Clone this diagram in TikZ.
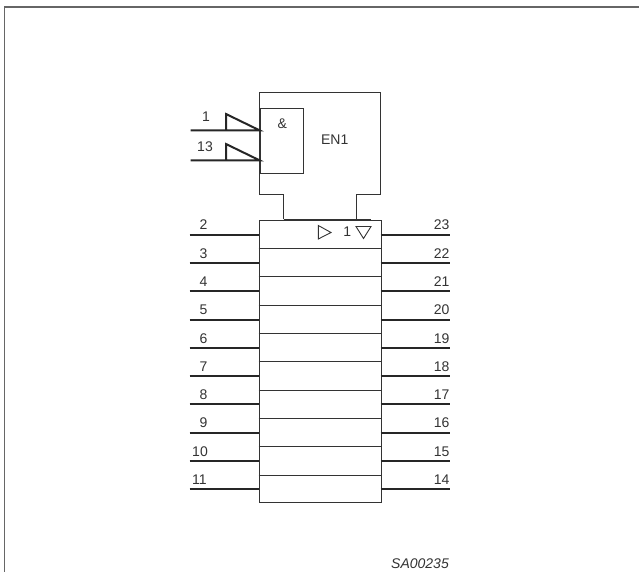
\documentclass[tikz,border=0pt]{standalone}
\usepackage{fontspec}
\setmainfont{Liberation Sans}
\tikzset{
	pin line/.style={line width=2pt,color=black!85},
	body line/.style={line width=0.9pt,color=black!80},
	pin label/.style={font=\fontsize{14}{15}\selectfont,inner sep=0pt,color=black!80}
}
\begin{document}
\begin{tikzpicture}[x=1pt,y=-1pt]
	\useasboundingbox (0,0) rectangle (639,572);
	% outer frame
	\draw[line width=1.2pt,color=black!60] (4.5,572) -- (4.5,7) -- (639,7);
	% enable block
	\draw[body line] (283.7,219.3) -- (283.7,194.3) -- (259.5,194.3) -- (259.5,92.3) -- (380.7,92.3) -- (380.7,194.3) -- (356.3,194.3) -- (356.3,219.3);
	\node[draw,body line,inner sep=0pt,minimum width=43.2pt,minimum height=65pt,anchor=north west] (andbox) at (259.5,108.3) {};
	\node[pin label] (amp) at (282.3,123.3) {\&};
	\node[pin label] (enone) at (334.7,139.3) {EN1};
	% gate inputs
	\coordinate (ina) at (190.5,130.3);
	\coordinate (inb) at (190.5,160.3);
	\coordinate (ea) at (259.5,130.3);
	\coordinate (eb) at (259.5,160.3);
	\draw[pin line] (ina) -- (ea) -- (226,114) -- (226,130.3);
	\draw[pin line] (inb) -- (eb) -- (226,144) -- (226,160.3);
	\node[pin label] (la) at (206,116.7) {1};
	\node[pin label] (lb) at (205,146.7) {13};
	% register block
	\node[draw,body line,inner sep=0pt,minimum width=122pt,minimum height=282.3pt,anchor=north west] (reg) at (258.7,220) {};
	\draw[line width=1.3pt,color=black!80] (283.7,219.3) -- (371,219.3);
	\foreach \row in {1,...,9}
		\draw[body line] (258.7,220+28.33*\row) -- (380.7,220+28.33*\row);
	\draw[body line] (318.3,225.5) -- (331,232.5) -- (318.3,239) -- cycle;
	\draw[body line] (356,226.5) -- (371,226.5) -- (363.5,238.5) -- cycle;
	\node[pin label] (one) at (347.3,232) {1};
	% pins
	\foreach \left/\right/\lx [count=\i from 0] in {2/23/203.5,3/22/203.5,4/21/203.5,5/20/203.5,6/19/203.5,7/18/203.5,8/17/203.5,9/16/203.5,10/15/200,11/14/199.5} {
		\coordinate (pl\i) at (189.5,234.6+28.3*\i);
		\coordinate (pr\i) at (449.7,234.6+28.3*\i);
		\coordinate (el\i) at (258.7,234.6+28.3*\i);
		\coordinate (er\i) at (380.7,234.6+28.3*\i);
		\draw[pin line] (pl\i) -- (el\i);
		\draw[pin line] (er\i) -- (pr\i);
		\node[pin label] (nl\i) at (\lx,225+28.3*\i) {\left};
		\node[pin label] (nr\i) at (441.7,225+28.3*\i) {\right};
	}
	\node[pin label,font=\fontsize{14}{15}\selectfont\itshape] (code) at (420,564) {SA00235};
\end{tikzpicture}
\end{document}
